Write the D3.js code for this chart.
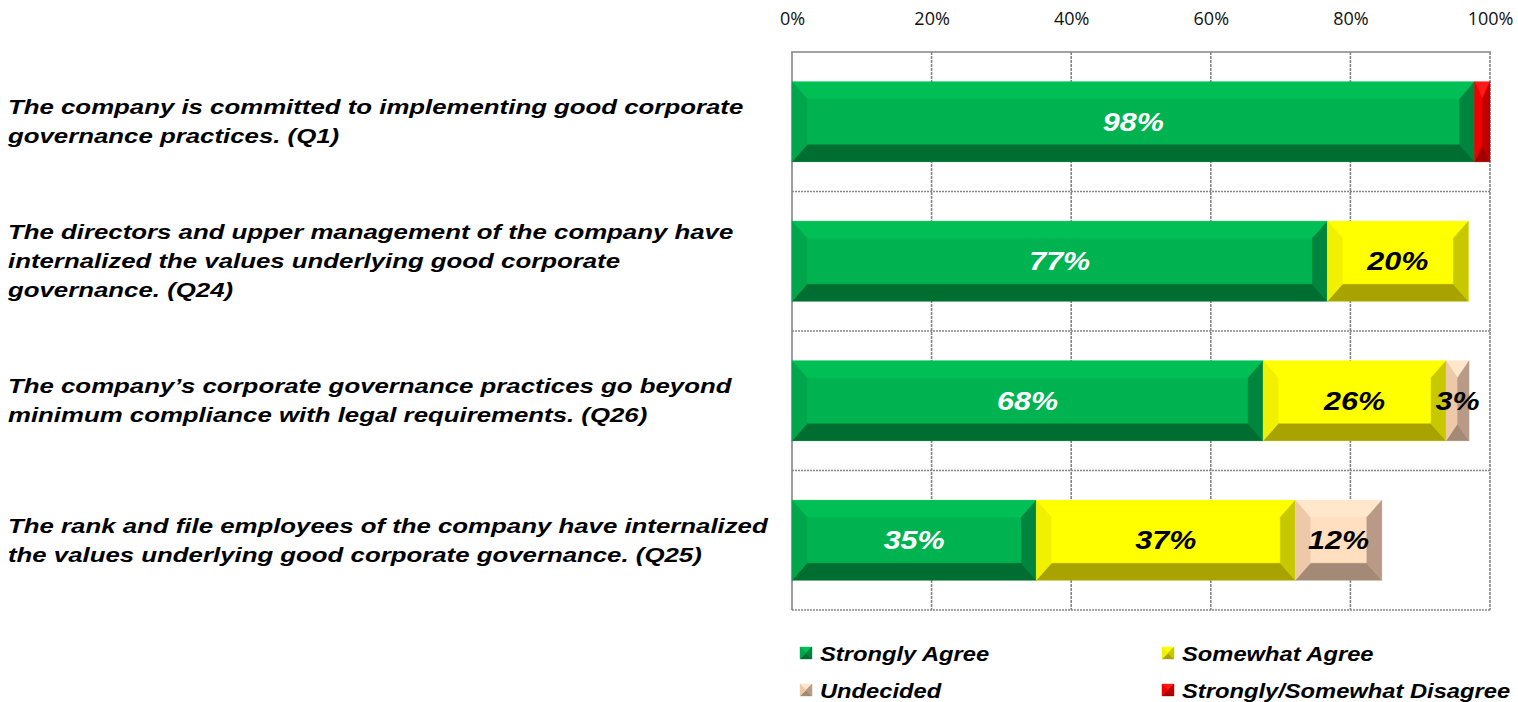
<!DOCTYPE html>
<html>
<head>
<meta charset="utf-8">
<script src="https://cdn.jsdelivr.net/npm/d3@7"></script>
<style>
  html, body { margin: 0; padding: 0; background: #fff; }
  svg { display: block; }
</style>
</head>
<body>
<svg id="chart"></svg>
<script>
// question labels (already wrapped like the original slide)
const questions = ["Q1", "Q24", "Q26", "Q25"];
const questionLines = [
  ["The company is committed to implementing good corporate", "governance practices. (Q1)"],
  ["The directors and upper management of the company have", "internalized the values underlying good corporate", "governance. (Q24)"],
  ["The company\u2019s corporate governance practices go beyond", "minimum compliance with legal requirements. (Q26)"],
  ["The rank and file employees of the company have internalized", "the values underlying good corporate governance. (Q25)"]
];

const seriesNames = ["Strongly Agree", "Somewhat Agree", "Undecided", "Strongly/Somewhat Disagree"];
const stronglyAgree = [97.8, 76.7, 67.5, 35.0];
const somewhatAgree = [0, 20.2, 26.2, 37.1];
const undecided = [0, 0, 3.3, 12.4];
const disagree = [2.2, 0, 0, 0];

const ticks = [0, 20, 40, 60, 80, 100];

// face / top / left / right / bottom shades for the bevelled bars
const palette = [
  { face: "#00b351", top: "#00c055", left: "#00a64c", right: "#00853e", bottom: "#006e31", text: "#ffffff" },
  { face: "#ffff00", top: "#ffff00", left: "#f0f000", right: "#c8c800", bottom: "#a8a300", text: "#000000" },
  { face: "#ffdfc0", top: "#ffe7cc", left: "#eec9a9", right: "#b89a86", bottom: "#a38a76", text: "#000000" },
  { face: "#ff0000", top: "#ff1a1a", left: "#f00000", right: "#c00000", bottom: "#a00000", text: "#ffffff" }
];

const W = 1518, H = 702;
const svg = d3.select("#chart").attr("width", W).attr("height", H);

const x = d3.scaleLinear().domain([0, 100]).range([792, 1490]);
const y = d3.scaleBand().domain(questions).range([52, 610])
  .paddingInner(0.427).paddingOuter(0.2135);

const labelFont = "'Liberation Sans', Arial, sans-serif";

// stack the series
const table = questions.map((q, i) => ({
  q: q,
  s0: stronglyAgree[i], s1: somewhatAgree[i], s2: undecided[i], s3: disagree[i]
}));
const stacked = d3.stack().keys(["s0", "s1", "s2", "s3"])(table);

// grid
const grid = svg.append("g").attr("stroke", "#858585").attr("stroke-width", 1.6);
grid.selectAll("line.v")
  .data(ticks)
  .join("line")
  .attr("x1", d => x(d)).attr("x2", d => x(d))
  .attr("y1", 52).attr("y2", 610)
  .attr("stroke-dasharray", d => (d === 0 ? null : "3,1"));
const bounds = questions.map(q => y(q) + y.bandwidth() + y.step() * y.paddingInner() / 2);
grid.selectAll("line.h")
  .data(bounds)
  .join("line")
  .attr("x1", x(0)).attr("x2", x(100))
  .attr("y1", d => d).attr("y2", d => d)
  .attr("stroke-dasharray", "2,1");
grid.append("line")
  .attr("x1", x(0) - 0.8).attr("x2", x(100) + 0.8)
  .attr("y1", 52).attr("y2", 52);

// x axis on top
const axis = svg.append("g")
  .attr("transform", "translate(0,25)")
  .call(d3.axisTop(x).tickValues(ticks).tickSize(0).tickPadding(0).tickFormat(d => d + "%"));
axis.select(".domain").remove();
axis.selectAll("text")
  .attr("font-family", "'Open Sans', sans-serif")
  .attr("font-size", 18)
  .attr("fill", "#111");

// bevelled box drawn as five polygons
function bevel(g, x0, y0, x1, y1, c, bxMax, byMax) {
  const bx = Math.min(bxMax, (x1 - x0) / 2);
  const by = Math.min(byMax, (y1 - y0) / 2);
  const pts = {
    top: [[x0, y0], [x1, y0], [x1 - bx, y0 + by], [x0 + bx, y0 + by]],
    bottom: [[x0, y1], [x1, y1], [x1 - bx, y1 - by], [x0 + bx, y1 - by]],
    left: [[x0, y0], [x0 + bx, y0 + by], [x0 + bx, y1 - by], [x0, y1]],
    right: [[x1, y0], [x1 - bx, y0 + by], [x1 - bx, y1 - by], [x1, y1]]
  };
  g.append("rect")
    .attr("x", x0).attr("y", y0)
    .attr("width", x1 - x0).attr("height", y1 - y0)
    .attr("fill", c.face);
  Object.keys(pts).forEach(k => {
    g.append("polygon")
      .attr("points", pts[k].map(p => p.join(",")).join(" "))
      .attr("fill", c[k])
      .attr("stroke", c[k])
      .attr("stroke-width", 0.4);
  });
}

// bars
const bars = svg.append("g");
stacked.forEach((layer, si) => {
  layer.forEach(d => {
    if (d[1] - d[0] <= 0) return;
    const g = bars.append("g");
    bevel(g, x(d[0]), y(d.data.q), x(d[1]), y(d.data.q) + y.bandwidth(), palette[si], 15, 17);
  });
});

// value labels
stacked.forEach((layer, si) => {
  if (si === 3) return;
  layer.forEach(d => {
    const v = d[1] - d[0];
    if (v <= 0) return;
    const cx = (x(d[0]) + x(d[1])) / 2;
    const cy = y(d.data.q) + y.bandwidth() / 2;
    svg.append("text")
      .attr("transform", `translate(${cx},${cy + 9}) scale(1.22,1)`)
      .attr("text-anchor", "middle")
      .attr("font-family", labelFont)
      .attr("font-weight", "bold")
      .attr("font-style", "italic")
      .attr("font-size", 25)
      .attr("fill", palette[si].text)
      .text(Math.round(v) + "%");
  });
});

// question labels on the left
const lineH = 29;
questionLines.forEach((lines, i) => {
  const cy = y(questions[i]) + y.bandwidth() / 2;
  lines.forEach((ln, j) => {
    const by = cy + (j - (lines.length - 1) / 2) * lineH + 7;
    svg.append("text")
      .attr("transform", `translate(8,${by}) scale(1.29,1)`)
      .attr("font-family", labelFont)
      .attr("font-weight", "bold")
      .attr("font-style", "italic")
      .attr("font-size", 20)
      .attr("fill", "#000")
      .text(ln);
  });
});

// legend
const legendPos = [[800, 653], [1162, 653], [800, 690], [1162, 690]];
seriesNames.forEach((name, i) => {
  const [lx, ly] = legendPos[i];
  const g = svg.append("g");
  bevel(g, lx, ly - 6, lx + 12, ly + 6, palette[i], 6, 6);
  svg.append("text")
    .attr("transform", `translate(${lx + 20},${ly + 8}) scale(1.13,1)`)
    .attr("font-family", labelFont)
    .attr("font-weight", "bold")
    .attr("font-style", "italic")
    .attr("font-size", 21)
    .attr("fill", "#000")
    .text(name);
});
</script>
</body>
</html>
